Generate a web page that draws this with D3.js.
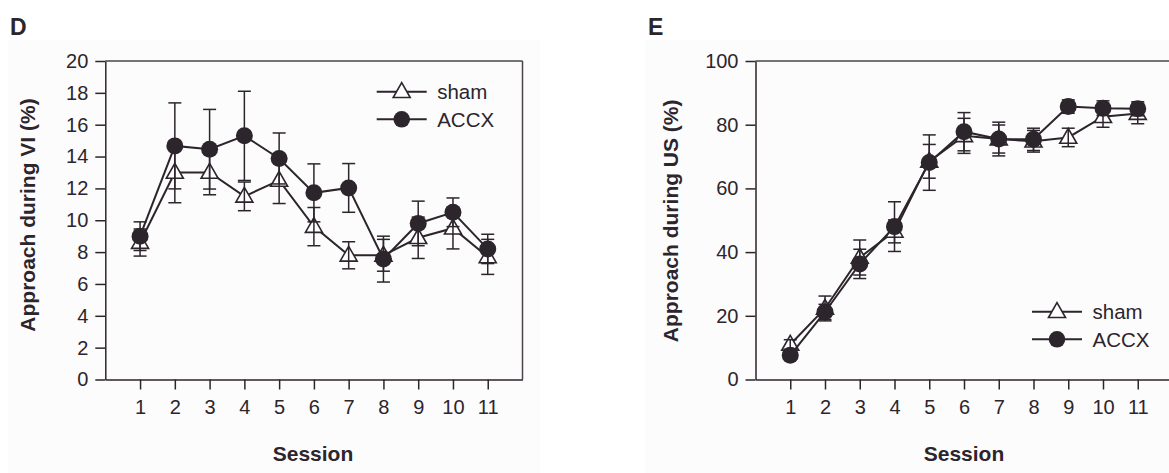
<!DOCTYPE html>
<html><head><meta charset="utf-8">
<script src="https://cdn.jsdelivr.net/npm/d3@7/dist/d3.min.js"></script>
<style>
html,body{margin:0;padding:0;background:#fff;}
svg{display:block;font-family:"Liberation Sans",Arial,sans-serif;}
</style></head>
<body><svg id="chart" width="1169" height="473"></svg>
<script>
// ---- data ----
const sessions = [1,2,3,4,5,6,7,8,9,10,11];
const seriesNames = ["sham","ACCX"];
// Panel D: Approach during VI (%)
const shamD    = [8.6, 13.0, 13.0, 11.5, 12.5, 9.6, 7.8, 7.8, 8.9, 9.5, 7.7];
const shamDErr = [0.85,1.9, 1.4, 0.9, 1.45,1.2, 0.85,1.0, 1.3, 1.3, 1.1];
const accxD    = [9.0, 14.67,14.46,15.3,13.88,11.72,12.03,7.56,9.8,10.5,8.2];
const accxDErr = [0.9, 2.7, 2.5, 2.8, 1.6, 1.82,1.53,1.44,1.4, 0.9, 0.92];
const yTicksD  = [0,2,4,6,8,10,12,14,16,18,20];
// Panel E: Approach during US (%)
const shamE    = [11.0,22.3,38.3,46.5,68.5,76.5,75.5,74.8,76.0,82.5,83.5];
const shamEErr = [1.5, 3.9, 5.5, 3.6, 5.3, 5.5, 4.4, 3.4, 2.9, 3.3, 3.2];
const accxE    = [7.6, 21.2,36.3,48.0,68.1,77.8,75.5,75.4,85.7,85.2,85.0];
const accxEErr = [1.2, 2.4, 4.6, 7.8, 8.7, 6.0, 5.3, 3.5, 2.1, 2.3, 2.2];
const yTicksE  = [0,20,40,60,80,100];

const INK = "#2d252c";
const svg = d3.select("#chart");

// faint panel backgrounds
svg.append("rect").attr("x",8).attr("y",40).attr("width",532).attr("height",433).attr("fill","#fcfcfc");
svg.append("rect").attr("x",645).attr("y",40).attr("width",524).attr("height",433).attr("fill","#fcfcfc");

const panels = [
  {letter:"D", lx:10, x0:105.3, x1:522.5, yMax:20, yTicks:yTicksD,
   ytitle:"Approach during VI (%)", ytx:27, yty:215, xtx:313,
   sham:shamD, shamErr:shamDErr, accx:accxD, accxErr:accxDErr,
   legX:376.7, legY:91.7},
  {letter:"E", lx:648, x0:755.5, x1:1172.5, yMax:100, yTicks:yTicksE,
   ytitle:"Approach during US (%)", ytx:670, yty:220.8, xtx:964,
   sham:shamE, shamErr:shamEErr, accx:accxE, accxErr:accxEErr,
   legX:1032, legY:311.7}
];

const yTop = 61, yBot = 379.5;

function triPath(cx, cy){
  return `M${cx},${cy-9}L${cx+8.5},${cy+5.8}L${cx-8.5},${cy+5.8}Z`;
}

panels.forEach(p => {
  const x = d3.scaleLinear().domain([0,12]).range([p.x0, p.x1]);
  const y = d3.scaleLinear().domain([0,p.yMax]).range([yBot, yTop]);
  const g = svg.append("g");

  // panel letter
  g.append("text").attr("x",p.lx).attr("y",35).attr("font-size",23).attr("font-weight","bold")
    .attr("fill",INK).text(p.letter);

  // frame top & right
  g.append("line").attr("x1",p.x0).attr("x2",p.x1).attr("y1",y(p.yMax)).attr("y2",y(p.yMax))
    .attr("stroke","#4a444a").attr("stroke-width",1.5);
  g.append("line").attr("x1",p.x1).attr("x2",p.x1).attr("y1",y(p.yMax)).attr("y2",y(0))
    .attr("stroke","#4a444a").attr("stroke-width",1.5);

  // axes
  const ya = g.append("g").attr("transform",`translate(${p.x0},0)`)
    .call(d3.axisLeft(y).tickValues(p.yTicks).tickSize(10).tickSizeOuter(0).tickPadding(7));
  const xa = g.append("g").attr("transform",`translate(0,${yBot})`)
    .call(d3.axisBottom(x).tickValues(sessions).tickSize(10).tickSizeOuter(0).tickPadding(10));
  [ya,xa].forEach(a => {
    a.selectAll("path,line").attr("stroke",INK).attr("stroke-width",1.5);
    a.selectAll("text").attr("fill",INK).attr("font-size",20).attr("font-family","Liberation Sans, Arial, sans-serif");
  });

  // titles
  g.append("text").attr("transform",`translate(${p.ytx},${p.yty}) rotate(-90)`)
    .attr("text-anchor","middle").attr("dominant-baseline","central")
    .attr("font-size",21).attr("font-weight","bold").attr("fill",INK).text(p.ytitle);
  g.append("text").attr("x",p.xtx).attr("y",460.5).attr("text-anchor","middle")
    .attr("font-size",21).attr("font-weight","bold").attr("fill",INK).text("Session");

  const line = d3.line().x((d,i)=>x(sessions[i])).y(d=>y(d));
  const errBars = (vals, errs) => {
    const eg = g.append("g").attr("stroke",INK).attr("stroke-width",1.5);
    vals.forEach((v,i)=>{
      const cx = x(sessions[i]);
      eg.append("line").attr("x1",cx).attr("x2",cx).attr("y1",y(v-errs[i])).attr("y2",y(v+errs[i]));
      [v-errs[i], v+errs[i]].forEach(e=>{
        eg.append("line").attr("x1",cx-6.5).attr("x2",cx+6.5).attr("y1",y(e)).attr("y2",y(e));
      });
    });
  };

  // sham series
  g.append("path").attr("d",line(p.sham)).attr("fill","none").attr("stroke",INK).attr("stroke-width",2);
  g.append("g").selectAll("path").data(p.sham).join("path")
    .attr("d",(d,i)=>triPath(x(sessions[i]), y(d)))
    .attr("fill","#fff").attr("stroke",INK).attr("stroke-width",1.6);
  errBars(p.sham, p.shamErr);

  // ACCX series
  g.append("path").attr("d",line(p.accx)).attr("fill","none").attr("stroke",INK).attr("stroke-width",2);
  errBars(p.accx, p.accxErr);
  g.append("g").selectAll("circle").data(p.accx).join("circle")
    .attr("cx",(d,i)=>x(sessions[i])).attr("cy",d=>y(d)).attr("r",8.5).attr("fill",INK);

  // legend
  const lg = g.append("g");
  seriesNames.forEach((name,k)=>{
    const ly = p.legY + k*27.6;
    lg.append("line").attr("x1",p.legX).attr("x2",p.legX+50).attr("y1",ly).attr("y2",ly)
      .attr("stroke",INK).attr("stroke-width",2);
    if(k===0){
      lg.append("path").attr("d",triPath(p.legX+25, ly)).attr("fill","#fff").attr("stroke",INK).attr("stroke-width",1.6);
    } else {
      lg.append("circle").attr("cx",p.legX+25).attr("cy",ly).attr("r",8.3).attr("fill",INK);
    }
    lg.append("text").attr("x",p.legX+60.5).attr("y",ly).attr("dominant-baseline","central")
      .attr("font-size",20.5).attr("fill",INK).text(name);
  });
});
</script></body></html>
